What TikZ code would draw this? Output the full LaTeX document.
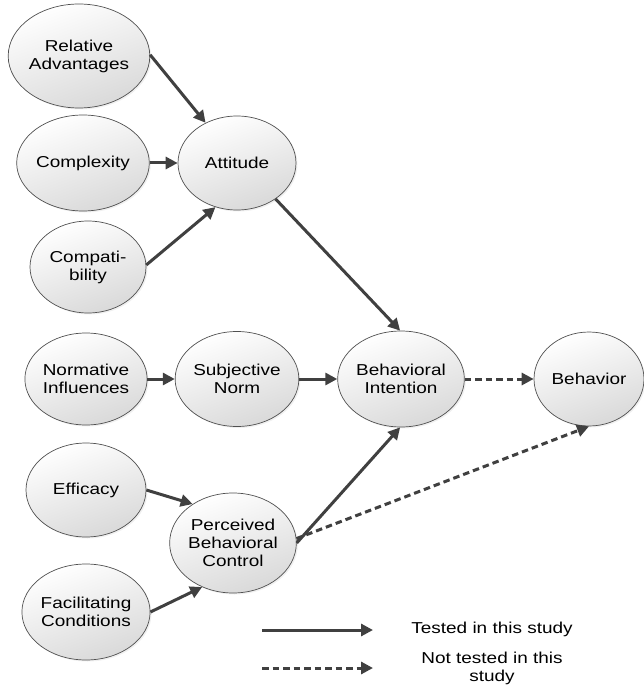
\documentclass[tikz,border=0pt]{standalone}
\usepackage{fontspec}
\setmainfont{Liberation Sans}[FakeStretch=1.2]
\usetikzlibrary{arrows.meta,shapes.geometric,shadows}
\definecolor{linegray}{HTML}{404040}
\definecolor{rimgray}{HTML}{505050}
\begin{document}
\begin{tikzpicture}[x=1pt,y=-1pt,
  construct/.style={ellipse, draw=rimgray, line width=0.7pt, inner sep=0pt,
    align=center, top color=white, bottom color=black!15, shading angle=20,
    drop shadow={shadow xshift=1.5pt, shadow yshift=-1.5pt, opacity=0.12},
    font=\fontsize{15.8}{18}\selectfont},
  caption/.style={align=center, font=\fontsize{15.8}{18}\selectfont},
  link/.style={draw=linegray, line width=3pt, -{Triangle[length=12pt,width=12pt]}},
  untested/.style={link, dash pattern=on 6.5pt off 4pt}
]
\useasboundingbox (0,0) rectangle (644,687);

% constructs
\node[construct, minimum width=134pt, minimum height=104pt] (ra)  at (79,56)   {Relative\\Advantages};
\node[construct, minimum width=124pt, minimum height=96pt]  (cx)  at (83,163)  {Complexity};
\node[construct, minimum width=118pt, minimum height=94pt]  (att) at (237,163) {Attitude};
\node[construct, minimum width=116pt, minimum height=92pt]  (cp)  at (88,267)  {Compati-\\bility};
\node[construct, minimum width=120pt, minimum height=92pt]  (ni)  at (86,379)  {Normative\\Influences};
\node[construct, minimum width=118pt, minimum height=95pt]  (sn)  at (237,379) {Subjective\\Norm};
\node[construct, minimum width=122pt, minimum height=96pt]  (bi)  at (401,379) {Behavioral\\Intention};
\node[construct, minimum width=110pt, minimum height=94pt]  (beh) at (589,379) {Behavior};
\node[construct, minimum width=120pt, minimum height=94pt]  (ef)  at (86,490)  {Efficacy};
\node[construct, minimum width=126pt, minimum height=100pt] (pbc) at (233,543) {Perceived\\Behavioral\\Control};
\node[construct, minimum width=120pt, minimum height=96pt]  (fc)  at (86,612)  {Facilitating\\Conditions};

% tested paths
\draw[link] (ra.1)   -- (att.128);
\draw[link] (cx.0)   -- (att.180);
\draw[link] (cp.2)   -- (att.244);
\draw[link] (att.-43) -- (bi.91);
\draw[link] (ni.0)   -- (sn.180);
\draw[link] (sn.0)   -- (bi.180);
\draw[link] (ef.0)   -- (pbc.136);
\draw[link] (fc.0)   -- (pbc.235);
\draw[link] (pbc.0)  -- (bi.269);

% untested paths
\draw[untested] (bi.0)  -- (beh.180);
\draw[untested] (pbc.4) -- (beh.270);

% legend
\coordinate (s1) at (262,630);
\coordinate (e1) at (373,630);
\coordinate (s2) at (262,668);
\coordinate (e2) at (373,668);
\draw[link] (s1) -- (e1);
\draw[untested] (s2) -- (e2);
\node[caption] (t1) at (492,629) {Tested in this study};
\node[caption] (t2) at (492,668) {Not tested in this\\study};
\end{tikzpicture}
\end{document}
